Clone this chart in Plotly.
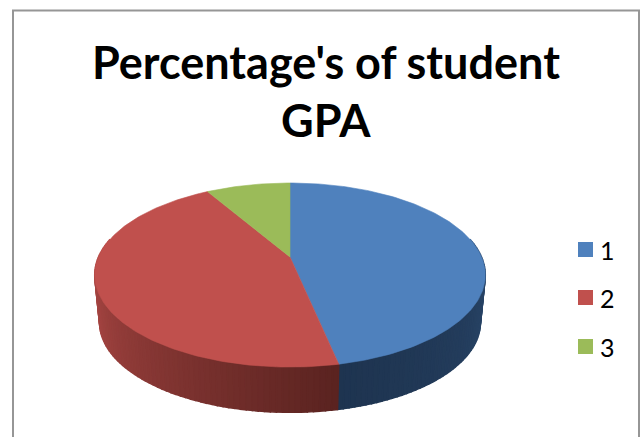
import math
import plotly.graph_objects as go

categories = ["1", "2", "3"]
values = [46.7, 44.9, 8.4]
top_colors = ["#4F81BD", "#C0504D", "#9BBB59"]
title_lines = ["Percentage's of student", "GPA"]

W, H = 641, 437
APEX_X, APEX_Y = 290, 257
RX, A, C = 191.5, 88.5, -0.196
DEPTH, SHRINK = 48, 0.975


def rim(theta_deg, lower=False):
    """Perspective projection of a point on the pie's rim (clockwise from the top)."""
    t = math.radians(theta_deg)
    X, Y = math.sin(t), -math.cos(t)
    d = 1 + C * Y
    px, py = RX * X / d, A * Y / d
    if lower:
        return APEX_X + SHRINK * px, APEX_Y + DEPTH + SHRINK * py
    return APEX_X + px, APEX_Y + py


def lerp(c1, c2, f):
    return "rgb(%d,%d,%d)" % tuple(round(a + (b - a) * f) for a, b in zip(c1, c2))


fig = go.Figure()
total = sum(values)
bounds = [0]
for v in values:
    bounds.append(bounds[-1] + v / total * 360)


def side(start, end, c_start, c_end, power=1.0):
    n = max(2, int(abs(end - start) / 1.5))
    for i in range(n):
        a0 = start + (end - start) * i / n
        a1 = start + (end - start) * (i + 1) / n
        p = [rim(a0), rim(a1), rim(a1, True), rim(a0, True), rim(a0)]
        col = lerp(c_start, c_end, ((i + 0.5) / n) ** power)
        fig.add_trace(go.Scatter(x=[q[0] for q in p], y=[q[1] for q in p], mode="lines",
                                 fill="toself", fillcolor=col, line=dict(color=col, width=1.5),
                                 hoverinfo="skip", showlegend=False))


# side walls of the slices that face the viewer (right to front, left to front)
side(78, bounds[1], (74, 122, 178), (30, 52, 80), 0.22)
side(282, bounds[1], (190, 80, 77), (90, 35, 32), 1.0)

# top faces
for i, cat in enumerate(categories):
    a0, a1 = bounds[i], bounds[i + 1]
    n = max(2, int(a1 - a0))
    pts = [(APEX_X, APEX_Y)] + [rim(a0 + (a1 - a0) * k / n) for k in range(n + 1)] + [(APEX_X, APEX_Y)]
    fig.add_trace(go.Scatter(x=[q[0] for q in pts], y=[q[1] for q in pts], mode="lines",
                             fill="toself", fillcolor=top_colors[i],
                             line=dict(color=top_colors[i], width=0.6),
                             name=cat, hoverinfo="name", showlegend=False))

# legend
legend_y = [249.5, 297.5, 346.5]
for i, cat in enumerate(categories):
    fig.add_trace(go.Scatter(x=[585.5], y=[legend_y[i]], mode="markers",
                             marker=dict(symbol="square", size=15, color=top_colors[i]),
                             hoverinfo="skip", showlegend=False))
    fig.add_annotation(x=598, y=legend_y[i], text=cat, showarrow=False, xanchor="left", yanchor="middle",
                       font=dict(family="Lato", size=25, color="black"))

# titles
for line, y in zip(title_lines, [62, 120]):
    fig.add_annotation(x=326, y=y, text="<b>%s</b>" % line, showarrow=False, xanchor="center", yanchor="middle",
                       font=dict(family="Lato", size=45, color="black"))

# chart frame (open at the bottom, as cropped in the reference)
fig.add_trace(go.Scatter(x=[13, 13, 639, 639], y=[H, 10.5, 10.5, H], mode="lines",
                         line=dict(color="#969696", width=2), hoverinfo="skip", showlegend=False))

fig.update_layout(width=W, height=H, margin=dict(l=0, r=0, t=0, b=0), autosize=False,
                  paper_bgcolor="white", plot_bgcolor="white", showlegend=False,
                  xaxis=dict(range=[0, W], visible=False, fixedrange=True),
                  yaxis=dict(range=[H, 0], visible=False, fixedrange=True))
fig.write_html("out.html", config={"displayModeBar": False},
               post_script="document.body.style.margin='0';document.body.style.overflow='hidden';")
